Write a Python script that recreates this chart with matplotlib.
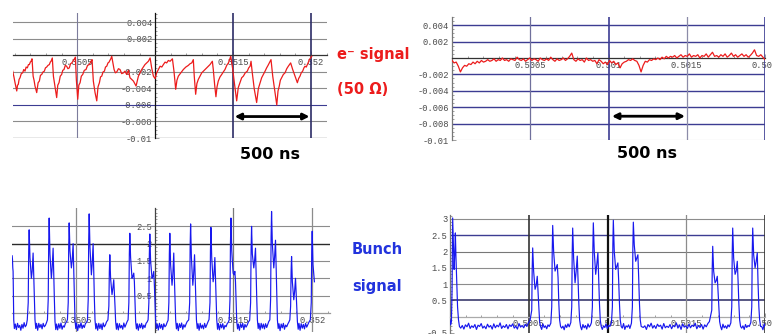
import numpy as np
import matplotlib.pyplot as plt
from matplotlib.ticker import AutoMinorLocator

# Figure size in pixels
W, H = 772, 334

# e- signal (50 ohm), first window: time in us after 0.35 s, signal in mV
esig1_t = [87, 95, 102, 113, 118, 123, 128, 134, 142, 151, 158, 166, 173, 181, 188, 194,
           200, 205, 211, 218, 224, 230, 241,
           250, 258, 265, 273, 281, 290, 297, 305, 313, 322, 328, 333, 341, 348, 359, 369,
           376, 384, 392, 401, 408, 416, 424, 433, 441, 450, 458, 466, 473, 480, 489, 495, 504,
           511, 519, 527, 536, 546, 557, 567, 578, 584, 589, 596, 604, 615, 626,
           634, 643, 650, 658, 666, 675, 682, 690, 698, 705, 710, 716, 722,
           737, 745, 754, 765, 775, 786, 797, 807, 818, 829, 839, 861, 878, 893, 914, 935, 957,
           968, 978, 989, 1000, 1010, 1021, 1032, 1043, 1053, 1064, 1074, 1085, 1096, 1111,
           1121, 1132,
           1140, 1149, 1165, 1181, 1197, 1213, 1224, 1235, 1245, 1251, 1260,
           1268, 1277, 1288, 1299, 1315, 1331, 1341, 1352, 1367, 1373, 1382, 1390,
           1397, 1405, 1416, 1427, 1437, 1448, 1459, 1470, 1485, 1498, 1508, 1523,
           1533, 1544, 1555, 1566, 1578, 1591, 1600, 1609, 1615, 1623, 1636, 1651,
           1662, 1673, 1683, 1694, 1705, 1715, 1724, 1732, 1743, 1754, 1769, 1780,
           1788, 1796, 1803, 1811, 1822, 1833, 1844, 1854, 1869, 1882, 1897, 1912,
           1920, 1929, 1937, 1946, 1954, 1961, 1969, 1976, 1983, 1989, 2004]
esig1_mv = [-1.9, -2.6, -3.3, -4.3, -3.6, -3.5, -2.9, -2.7, -2.2, -2.1, -1.7, -1.9, -1.4, -1.5, -1.1, -1.1,
            -0.8, -0.7, -0.4, -2.5, -3.0, -3.7, -4.5,
            -3.3, -3.1, -2.4, -2.3, -2.0, -1.9, -1.5, -1.4, -1.2, -1.1, -0.8, -0.7, -0.3, -2.5, -3.9, -5.1,
            -3.6, -3.3, -2.5, -2.3, -1.8, -1.7, -1.2, -1.3, -1.6, -1.5, -1.0, -0.9, -0.7, -0.5, -0.2, -2.9, -5.3,
            -3.6, -3.3, -2.5, -2.3, -1.8, -1.7, -1.2, -1.1, -0.9, -0.7, -0.5, -3.1, -4.5, -5.5,
            -3.8, -3.3, -2.6, -2.5, -2.0, -1.9, -1.4, -1.3, -0.9, -0.8, -0.6, -0.4, -0.1,
            -1.7, -2.1, -2.0, -1.6, -1.7, -2.2, -2.1, -1.9, -2.3, -1.8, -2.7, -3.1, -3.7, -2.5, -1.7, -1.1, -0.7,
            -0.3, -1.5, -2.5, -2.8, -2.1, -1.7, -1.3, -1.4, -1.1, -0.8, -0.9, -0.6, -0.7, -0.4,
            -1.9, -4.1,
            -3.0, -2.5, -2.1, -1.7, -1.4, -1.2, -1.0, -0.9, -0.5, -2.5, -4.7,
            -3.4, -2.9, -2.5, -2.1, -1.8, -1.5, -1.3, -1.1, -0.7, -1.7, -3.6, -5.0,
            -3.8, -3.1, -2.6, -2.3, -2.0, -1.7, -1.2, -0.9, -0.1, -1.7, -3.3, -5.5,
            -3.9, -3.3, -2.7, -2.5, -2.1, -1.9, -1.5, -1.3, -0.7, -2.1, -4.1, -5.7,
            -4.0, -3.3, -2.7, -2.3, -1.9, -1.5, -1.2, -0.9, -0.5, -2.5, -4.5, -6.0,
            -4.3, -3.7, -3.0, -2.7, -2.3, -2.1, -1.6, -1.3, -0.9, -1.7, -2.5, -3.3,
            -2.8, -2.5, -2.1, -1.9, -1.5, -1.3, -1.4, -1.1, -0.8, -0.5, -0.1]

# e- signal, second window: mV, evenly sampled over 0..2000 us after 0.5 s
esig2_mv = [-0.3, -0.6, -0.5, -1.0, -1.7, -1.2, -0.9, -1.0, -0.7, -0.8,
            -0.5, -0.7, -0.4, -0.6, -0.3, -0.5, -0.4, -0.2, -0.4, -0.3,
            -0.1, -0.4, -0.2, -0.3, 0.0, -0.3, -0.2, -0.4, -0.1, -0.2,
            -0.3, 0.1, -0.2, -0.3, -0.1, -0.4, -0.2, 0.0, -0.3, -0.1,
            -0.2, -0.4, 0.0, -0.2, -0.3, -0.1, -0.3, 0.1, -0.2, -0.4,
            -0.1, -0.3, -0.2, 0.0, -0.3, -0.1, 0.2, 0.6, -0.2, -0.4,
            -0.1, -0.3, -0.2, -0.5, 0.0, -0.3, -0.2, -0.4, -0.3, -0.7,
            -0.2, -0.4, -0.7, -0.5, -0.8, -0.3, -0.6, -0.4, -0.8, -0.6,
            -1.2, -0.7, -0.5, -0.4, -0.2, -0.3, -0.1, -0.3, -0.4, -0.9,
            -1.7, -0.9, -0.4, -0.5, -0.2, -0.3, -0.1, -0.2, 0.0, -0.2,
            0.1, -0.1, 0.2, 0.0, 0.2, 0.1, 0.3, 0.0, 0.2, 0.4,
            0.1, 0.3, 0.2, 0.5, 0.1, 0.3, 0.2, 0.4, 0.0, 0.3,
            0.2, 0.5, 0.1, 0.4, 0.7, 0.2, 0.3, 0.1, 0.4, 0.2,
            0.5, 0.1, 0.3, 0.6, 0.2, 0.4, 0.1, 0.3, 0.5, 0.2,
            0.4, 0.1, 0.3, 0.6, 1.0, 0.3, 0.2, 0.4, 0.1, -0.2]

# Bunch signal, first window: time in us after 0.35 s, signal in V
bunch1_t = [95, 97, 99, 101, 103, 105, 109,
            115, 122, 129, 136, 143, 150, 157, 164, 171, 178, 185, 191,
            197, 200, 203, 208, 217, 222, 228, 232, 236, 240, 245,
            250, 257, 264, 271, 278, 285, 292, 299, 306, 313, 319,
            324, 327, 330, 335, 344, 349, 355, 359, 363, 367, 372,
            377, 384, 391, 398, 405, 412, 419, 426, 433, 440, 446,
            451, 454, 457, 462, 471, 476, 482, 486, 490, 494, 499,
            504, 511, 518, 525, 532, 539, 546, 553, 560, 567, 573,
            578, 581, 584, 589, 598, 603, 609, 613, 617, 621, 626,
            631, 638, 645, 652, 659, 666, 673, 680, 687, 694, 703,
            709, 712, 715, 720, 729, 734, 740, 744, 748, 752, 757,
            762, 769, 776, 783, 790, 797, 804, 811, 818, 825, 831,
            836, 839, 842, 847, 856, 861, 867, 871, 875, 879, 884,
            889, 896, 903, 910, 917, 924, 931, 938, 945, 952, 958,
            963, 966, 969, 974, 983, 988, 994, 998, 1002, 1006, 1011,
            1016, 1023, 1030, 1037, 1044, 1051, 1058, 1065, 1072, 1079, 1085,
            1090, 1093, 1096, 1101, 1110, 1115, 1121, 1125, 1129, 1133, 1138,
            1143, 1150, 1157, 1164, 1171, 1178, 1185, 1192, 1199, 1206, 1216,
            1222, 1225, 1228, 1233, 1242, 1247, 1253, 1257, 1261, 1265, 1270,
            1275, 1282, 1289, 1296, 1303, 1310, 1317, 1324, 1331, 1338, 1345,
            1351, 1354, 1357, 1362, 1371, 1376, 1382, 1386, 1390, 1394, 1399,
            1404, 1411, 1418, 1425, 1432, 1439, 1446, 1453, 1460, 1467, 1473,
            1478, 1481, 1484, 1489, 1498, 1503, 1509, 1513, 1517, 1521, 1526,
            1531, 1538, 1545, 1552, 1559, 1566, 1573, 1580, 1587, 1595, 1603,
            1609, 1612, 1615, 1620, 1629, 1634, 1640, 1644, 1648, 1652, 1657,
            1662, 1669, 1676, 1683, 1690, 1697, 1704, 1711, 1718, 1724, 1731,
            1736, 1739, 1742, 1747, 1756, 1761, 1767, 1771, 1775, 1779, 1784,
            1789, 1796, 1803, 1810, 1817, 1824, 1831, 1838, 1845, 1851, 1858,
            1863, 1866, 1869, 1874, 1883, 1888, 1894, 1898, 1902, 1906, 1911,
            1916, 1923, 1930, 1937, 1944, 1951, 1958, 1965, 1972, 1980, 1988,
            1994, 1997, 2000, 2005, 2014]
bunch1_v = [1.65, 1.55, 1.3, 1.2, 0.4, -0.2, -0.45,
            -0.32, -0.48, -0.30, -0.42, -0.36, -0.50, -0.33, -0.44, -0.28, -0.40, -0.35, -0.20,
            0.3, 1.8, 2.40, 1.6, 1.00, 1.2, 1.73, 1.1, 0.5, -0.2, -0.45,
            -0.30, -0.50, -0.30, -0.42, -0.33, -0.46, -0.30, -0.40, -0.36, -0.28, -0.20,
            0.4, 2.0, 2.74, 1.7, 1.00, 1.3, 1.87, 1.1, 0.4, -0.25, -0.48,
            -0.32, -0.49, -0.31, -0.44, -0.29, -0.47, -0.37, -0.41, -0.30, -0.26, -0.19,
            0.3, 1.9, 2.60, 1.8, 1.30, 1.5, 2.00, 1.2, 0.5, -0.2, -0.45,
            -0.29, -0.51, -0.33, -0.43, -0.28, -0.45, -0.35, -0.42, -0.31, -0.27, -0.21,
            0.4, 2.1, 2.86, 1.9, 1.10, 1.4, 2.00, 1.2, 0.4, -0.2, -0.46,
            -0.31, -0.50, -0.30, -0.45, -0.32, -0.48, -0.29, -0.40, -0.35, -0.26, -0.20,
            0.2, 1.2, 1.68, 1.0, 0.53, 0.7, 0.96, 0.6, 0.2, -0.25, -0.47,
            -0.30, -0.49, -0.31, -0.43, -0.36, -0.47, -0.29, -0.41, -0.33, -0.25, -0.20,
            0.3, 1.7, 2.30, 1.6, 1.00, 1.05, 1.15, 0.9, 0.3, -0.25, -0.46,
            -0.31, -0.50, -0.32, -0.43, -0.30, -0.46, -0.35, -0.42, -0.30, -0.26, -0.20,
            0.3, 1.7, 2.28, 1.5, 1.00, 1.05, 1.20, 0.8, 0.3, -0.25, -0.45,
            -0.32, -0.49, -0.30, -0.44, -0.33, -0.48, -0.31, -0.40, -0.36, -0.27, -0.21,
            0.3, 1.7, 2.30, 1.4, 0.80, 1.1, 1.73, 1.0, 0.4, -0.2, -0.46,
            -0.30, -0.51, -0.31, -0.42, -0.29, -0.47, -0.34, -0.41, -0.32, -0.25, -0.20,
            0.3, 1.9, 2.57, 1.6, 0.80, 1.1, 1.68, 1.0, 0.4, -0.2, -0.45,
            -0.31, -0.50, -0.30, -0.44, -0.35, -0.46, -0.30, -0.42, -0.34, -0.26, -0.19,
            0.3, 1.8, 2.47, 1.6, 0.90, 1.1, 1.60, 1.0, 0.4, -0.2, -0.47,
            -0.30, -0.49, -0.32, -0.43, -0.31, -0.47, -0.36, -0.40, -0.31, -0.27, -0.20,
            0.4, 2.0, 2.74, 1.8, 1.15, 1.1, 1.20, 0.9, 0.3, -0.25, -0.46,
            -0.32, -0.50, -0.31, -0.42, -0.30, -0.48, -0.33, -0.41, -0.35, -0.26, -0.21,
            0.3, 1.8, 2.50, 1.7, 1.30, 1.5, 1.87, 1.1, 0.4, -0.2, -0.45,
            -0.30, -0.49, -0.30, -0.44, -0.32, -0.46, -0.31, -0.42, -0.33, -0.25, -0.20,
            0.4, 2.2, 2.93, 2.0, 1.30, 1.6, 2.10, 1.3, 0.5, -0.2, -0.45,
            -0.31, -0.51, -0.32, -0.43, -0.30, -0.47, -0.35, -0.40, -0.32, -0.27, -0.20,
            0.2, 1.2, 1.63, 0.9, 0.38, 0.6, 1.00, 0.6, 0.2, -0.25, -0.47,
            -0.30, -0.50, -0.31, -0.44, -0.33, -0.46, -0.30, -0.41, -0.34, -0.26, -0.20,
            0.3, 1.8, 2.36, 1.4, 0.9]

# Bunch signal, second window: time in us after 0.5 s, signal in V
bunch2_t = [0, 4, 9, 13, 17, 22, 26, 30, 34, 38, 43, 48, 54, 60,
            68, 78, 88, 98, 108, 118, 128, 138, 148, 158, 168, 178, 188, 198, 208,
            218, 228, 238, 248, 258, 268, 278, 288, 298, 308, 318, 328, 338, 348, 358,
            368, 378, 388, 398, 408, 418, 428, 438, 448, 458, 468, 478, 488, 498, 508,
            519, 522, 525, 531, 540, 547, 554, 559, 564, 569, 575,
            582, 590, 598, 606, 614, 622, 630, 640,
            646, 649, 652, 658, 667, 674, 681, 686, 691, 696, 702,
            709, 717, 725, 733, 741, 749, 757, 767,
            773, 776, 779, 785, 794, 801, 808, 813, 818, 823, 829,
            836, 844, 852, 860, 868, 876, 884, 892, 898,
            904, 907, 910, 916, 925, 932, 939, 944, 949, 954, 960,
            967, 975, 983, 991, 999, 1007, 1015, 1025,
            1031, 1034, 1037, 1043, 1052, 1059, 1066, 1071, 1076, 1081, 1087,
            1094, 1102, 1110, 1118, 1126, 1134, 1142, 1152,
            1158, 1161, 1164, 1170, 1179, 1186, 1193, 1198, 1203, 1208, 1214,
            1227, 1237, 1247, 1257, 1267, 1277, 1287, 1297, 1307,
            1317, 1327, 1337, 1347, 1357, 1367, 1377, 1387, 1397, 1407, 1417, 1427,
            1437, 1447, 1457, 1467, 1477, 1487, 1497, 1507, 1517, 1527, 1537, 1547,
            1557, 1567, 1577, 1587, 1597, 1607, 1617, 1627, 1637, 1647,
            1662, 1665, 1668, 1674, 1683, 1690, 1697, 1702, 1707, 1712, 1718,
            1725, 1733, 1741, 1749, 1757, 1765, 1773, 1783,
            1789, 1792, 1795, 1801, 1810, 1817, 1824, 1829, 1834, 1839, 1845,
            1852, 1860, 1868, 1876, 1884, 1892, 1900, 1910,
            1916, 1919, 1922, 1928, 1937, 1944, 1951, 1956, 1961, 1966, 1972,
            1979, 1987, 1995, 2000]
bunch2_v = [-0.1, -0.25, -0.15, 0.8, 3.03, 2.2, 1.45, 1.9, 2.57, 1.8, 1.0, 0.3, -0.1, -0.3,
            -0.35, -0.27, -0.38, -0.25, -0.31, -0.20, -0.36, -0.28, -0.33,
            -0.24, -0.39, -0.26, -0.30, -0.21, -0.35, -0.29, -0.37, -0.23, -0.32,
            -0.27, -0.38, -0.22, -0.34, -0.26, -0.31, -0.19, -0.36, -0.28, -0.33,
            -0.24, -0.37, -0.25, -0.30, -0.22, -0.35, -0.29, -0.38, -0.21, -0.32,
            -0.27, -0.34, -0.23, -0.30, -0.18, -0.12,
            0.2, 1.5, 2.11, 1.4, 0.84, 0.95, 1.24, 0.8, 0.3, -0.15, -0.3,
            -0.39, -0.22, -0.33, -0.28, -0.37, -0.25, -0.30, -0.20,
            0.3, 2.0, 2.8, 2.0, 1.4, 1.5, 1.6, 1.2, 0.4, -0.1, -0.3,
            -0.35, -0.29, -0.40, -0.25, -0.33, -0.22, -0.31, -0.18,
            0.3, 2.0, 2.72, 1.8, 1.04, 1.4, 1.86, 1.1, 0.4, -0.1, -0.3,
            -0.40, -0.24, -0.34, -0.27, -0.38, -0.22, -0.32, -0.26, -0.18,
            0.3, 2.1, 2.88, 2.0, 1.3, 1.6, 1.96, 1.2, 0.4, -0.1, -0.3,
            -0.39, -0.28, -0.33, -0.22, -0.37, -0.26, -0.30, -0.19,
            0.3, 2.2, 2.96, 2.0, 1.45, 1.55, 1.65, 1.1, 0.4, -0.1, -0.3,
            -0.35, -0.21, -0.39, -0.28, -0.32, -0.25, -0.36, -0.20,
            0.3, 2.1, 2.9, 2.2, 1.7, 1.8, 1.9, 1.2, 0.4, -0.1, -0.3,
            -0.33, -0.28, -0.39, -0.24, -0.31, -0.20, -0.35,
            -0.27, -0.36, -0.23, -0.30, -0.26, -0.38, -0.21, -0.34, -0.29, -0.33,
            -0.24, -0.37, -0.27, -0.31, -0.19, -0.35, -0.25, -0.39, -0.22, -0.32,
            -0.28, -0.36, -0.23, -0.34, -0.26, -0.30, -0.20, -0.37, -0.27, -0.33,
            -0.24, -0.38, -0.25, -0.31, -0.21, -0.15,
            0.2, 1.5, 2.16, 1.4, 1.04, 1.1, 1.24, 0.8, 0.3, -0.15, -0.3,
            -0.40, -0.23, -0.34, -0.28, -0.36, -0.25, -0.31, -0.19,
            0.3, 2.0, 2.72, 1.8, 1.3, 1.4, 1.7, 1.1, 0.4, -0.1, -0.3,
            -0.35, -0.28, -0.39, -0.24, -0.33, -0.27, -0.30, -0.18,
            0.3, 2.0, 2.72, 1.9, 1.5, 1.7, 1.96, 1.0, 0.3, -0.1, -0.3,
            -0.30, -0.40, -0.22, -0.30]

# Axis ticks and labels
T1_BASE, T2_BASE = 0.35, 0.5
X1_TICKS = [0.3505, 0.351, 0.3515, 0.352]
X1_LABELS = ['0.3505', '', '0.3515', '0.352']
X2_TICKS = [0.5005, 0.501, 0.5015, 0.502]
X2_LABELS = ['0.5005', '0.501', '0.5015', '0.502']
ESIG_TICKS = [-0.01, -0.008, -0.006, -0.004, -0.002, 0, 0.002, 0.004]
ESIG_LABELS = ['-0.01', '-0.008', '-0.006', '-0.004', '-0.002', '', '0.002', '0.004']
B1_TICKS = [0, 0.5, 1, 1.5, 2, 2.5]
B1_LABELS = ['', '0.5', '1', '1.5', '2', '2.5']
B2_TICKS = [-0.5, 0, 0.5, 1, 1.5, 2, 2.5, 3]
B2_LABELS = ['-0.5', '', '0.5', '1', '1.5', '2', '2.5', '3']

RED = '#ec1c1c'
BLUE = '#1818ee'
GRAY = '#8c8c8c'
NAVY = '#3c3c92'
DARK = '#2a2a2a'


def px_axes(fig, left, top, right, bottom):
    return fig.add_axes([left / W, 1 - bottom / H, (right - left) / W, (bottom - top) / H])


def setup(ax, xlim, ylim, x0, xt, xl, yt, yl, nminor_y):
    ax.set_xlim(*xlim)
    ax.set_ylim(*ylim)
    ax.set_facecolor('none')
    for s in ['top', 'right']:
        ax.spines[s].set_visible(False)
    ax.spines['left'].set_position(('data', x0))
    ax.spines['bottom'].set_position(('data', 0))
    ax.spines['left'].set_linewidth(0.9)
    ax.spines['bottom'].set_linewidth(0.9)
    ax.set_xticks(xt)
    ax.set_xticklabels(xl)
    ax.set_yticks(yt)
    ax.set_yticklabels(yl)
    ax.xaxis.set_minor_locator(AutoMinorLocator(5))
    ax.yaxis.set_minor_locator(AutoMinorLocator(nminor_y))
    ax.tick_params(which='both', direction='in', color='#777777', width=0.5,
                   labelsize=6.3, labelcolor='#4a4a4a', pad=2,
                   labelfontfamily='Liberation Mono')
    ax.tick_params(which='major', length=3)
    ax.tick_params(which='minor', length=1.6)
    ax.set_axisbelow(True)


def hlines(ax, ys, colors, lws):
    for y, c, lw in zip(ys, colors, lws):
        ax.axhline(y, color=c, lw=lw, zorder=1)


def vlines(ax, xs, colors, lws):
    for x, c, lw in zip(xs, colors, lws):
        ax.axvline(x, color=c, lw=lw, zorder=1)


fig = plt.figure(figsize=(W / 100, H / 100), dpi=100)
fig.patch.set_facecolor('white')

# --- top left: e- signal, first window
ax1 = px_axes(fig, 13, 13, 327, 138)
setup(ax1, (T1_BASE + 89e-6, T1_BASE + 2102e-6), (-0.01, 0.00515), 0.351,
      X1_TICKS, X1_LABELS, ESIG_TICKS, ESIG_LABELS, 4)
ax1.spines['left'].set_color('#111111')
ax1.spines['bottom'].set_color('#333333')
hlines(ax1, [0.004, 0.002, -0.002, -0.004, -0.006, -0.008, -0.01],
       [GRAY, GRAY, GRAY, GRAY, NAVY, GRAY, GRAY], [0.8] * 6 + [1.0])
vlines(ax1, [0.3505, 0.3515, 0.352], ['#7c7c9c', '#2c2c66', '#2c2c66'], [0.8, 1.2, 1.2])
ax1.plot(T1_BASE + np.array(esig1_t) * 1e-6, np.array(esig1_mv) * 1e-3,
         color=RED, lw=0.9, zorder=3)
ax1.annotate('', xy=(0.35199, -0.0074), xytext=(0.35151, -0.0074),
             arrowprops=dict(arrowstyle='<|-|>', color='black', lw=2,
                             mutation_scale=9, shrinkA=0, shrinkB=0), zorder=4)

# --- top right: e- signal, second window
ax2 = px_axes(fig, 452, 17, 765, 140)
setup(ax2, (T2_BASE, T2_BASE + 2000e-6), (-0.01, 0.005), T2_BASE,
      X2_TICKS, X2_LABELS, ESIG_TICKS, ESIG_LABELS, 4)
ax2.spines['left'].set_color('#777777')
ax2.spines['bottom'].set_color('#333333')
hlines(ax2, [0.004, 0.002, -0.002, -0.004, -0.006, -0.008, -0.01],
       [NAVY] * 6 + ['#bbbbbb'], [1.0] * 6 + [0.8])
vlines(ax2, X2_TICKS, ['#70709c', '#3c3c92', '#8c8ca8', '#3c3c92'], [0.9, 1.2, 0.9, 1.2])
esig2_t = np.linspace(0, 2000, len(esig2_mv))
ax2.plot(T2_BASE + esig2_t * 1e-6, np.array(esig2_mv) * 1e-3,
         color=RED, lw=0.9, zorder=3)
ax2.annotate('', xy=(T2_BASE + 1489e-6, -0.0071), xytext=(T2_BASE + 1022e-6, -0.0071),
             arrowprops=dict(arrowstyle='<|-|>', color='black', lw=2,
                             mutation_scale=9, shrinkA=0, shrinkB=0), zorder=4)

# --- bottom left: bunch signal, first window
ax3 = px_axes(fig, 12, 208, 330, 332)
setup(ax3, (T1_BASE + 94e-6, T1_BASE + 2113e-6), (-0.55, 3.03), 0.351,
      X1_TICKS, X1_LABELS, B1_TICKS, B1_LABELS, 5)
ax3.spines['left'].set_color('#444444')
ax3.spines['bottom'].set_color('#999999')
hlines(ax3, [0.5, 1, 1.5, 2, 2.5], [GRAY, GRAY, GRAY, DARK, GRAY], [0.8, 0.8, 0.8, 1.0, 0.8])
vlines(ax3, [0.3505, 0.3515, 0.352], [GRAY, '#777777', GRAY], [0.9, 0.9, 0.9])
ax3.plot(T1_BASE + np.array(bunch1_t) * 1e-6, bunch1_v, color=BLUE, lw=0.85, zorder=3)

# --- bottom right: bunch signal, second window
ax4 = px_axes(fig, 450, 215, 765, 333)
setup(ax4, (T2_BASE, T2_BASE + 2000e-6), (-0.5, 3.12), T2_BASE,
      X2_TICKS, X2_LABELS, B2_TICKS, B2_LABELS, 5)
ax4.spines['left'].set_color('#777777')
ax4.spines['bottom'].set_color('#aaaaaa')
hlines(ax4, [3, 2.5, 2, 1.5, 1, 0.5],
       [GRAY, NAVY, '#777777', GRAY, GRAY, '#2a2a60'], [0.8, 1.0, 0.8, 0.8, 0.8, 1.1])
vlines(ax4, X2_TICKS, ['#333333', '#111111', GRAY, '#333333'], [1.2, 1.6, 0.9, 1.2])
ax4.plot(T2_BASE + np.array(bunch2_t) * 1e-6, bunch2_v, color=BLUE, lw=0.85, zorder=3)


# --- slide annotations
def note(x, y, s, color, size):
    fig.text(x / W, 1 - y / H, s, color=color, fontsize=size, fontweight='bold',
             family='DejaVu Sans', ha='left', va='center')


note(337, 54, 'e\u207b signal', RED, 10.5)
note(337, 89, '(50 \u03a9)', RED, 10.5)
note(240, 155, '500 ns', 'black', 11.5)
note(617, 153, '500 ns', 'black', 11.5)
note(352, 249, 'Bunch', '#2233dd', 10.5)
note(352, 286, 'signal', '#2233dd', 10.5)

fig.savefig('out.png', dpi=100, facecolor='white')
